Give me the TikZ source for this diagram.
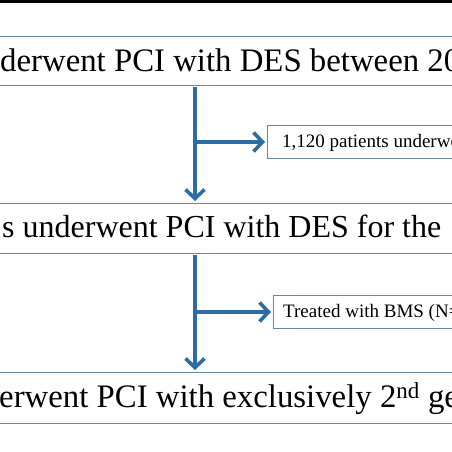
\documentclass[tikz,border=0pt]{standalone}
\usepackage{fontspec}
\setmainfont{Liberation Serif}
\usetikzlibrary{arrows.meta}
\definecolor{arrowblue}{HTML}{2E6CA4}
\definecolor{boxline}{HTML}{6A87A3}
\tikzset{
  x=1pt, y=1pt,
  boxshape/.style={draw=boxline, line width=1pt, fill=white, rectangle, inner sep=0pt, anchor=north west},
  bigtext/.style={anchor=base west, inner sep=0pt, font=\fontsize{32.8}{38}\selectfont},
  midtext/.style={anchor=base west, inner sep=0pt, font=\fontsize{32}{38}\selectfont},
  smalltext/.style={anchor=base west, inner sep=0pt, font=\fontsize{19}{23}\selectfont},
  flowarrow/.style={draw=arrowblue, line width=4pt, -{Straight Barb[length=9pt,width=19pt,line width=3.6pt]}, shorten >=2pt}
}
\begin{document}
\begin{tikzpicture}
\useasboundingbox (0,0) rectangle (452,452);
\clip (0,0) rectangle (452,452);
\fill[black] (0,449) rectangle (452,452);
% big boxes
\node[boxshape, minimum width=520pt, minimum height=49pt] (b1) at (-30,416) {};
\node[boxshape, minimum width=520pt, minimum height=50pt] (b2) at (-30,249) {};
\node[boxshape, minimum width=520pt, minimum height=51pt] (b3) at (-30,80) {};
% side boxes
\node[boxshape, minimum width=240pt, minimum height=33pt] (s1) at (267,327) {};
\node[boxshape, minimum width=240pt, minimum height=33pt] (s2) at (273,157) {};
% texts
\node[bigtext] (t1) at (0,380) {derwent PCI with DES between 20};
\node[midtext] (t2) at (2,214) {s underwent PCI with DES for the};
\node[bigtext] (t3) at (-1,44) {erwent PCI with exclusively 2\textsuperscript{nd} ge};
\node[smalltext] (u1) at (282,304) {1,120 patients underwe};
\node[smalltext] (u2) at (283,134) {Treated with BMS (N=};
% connectors
\coordinate (v) at (195,0);
\draw[flowarrow, shorten <=1pt] (b1.south -| v) -- (b2.north -| v);
\draw[flowarrow, shorten <=1pt] (b2.south -| v) -- (b3.north -| v);
\draw[flowarrow] (v |- s1.west) -- (s1.west);
\draw[flowarrow] (v |- s2.west) -- (s2.west);
\end{tikzpicture}
\end{document}
